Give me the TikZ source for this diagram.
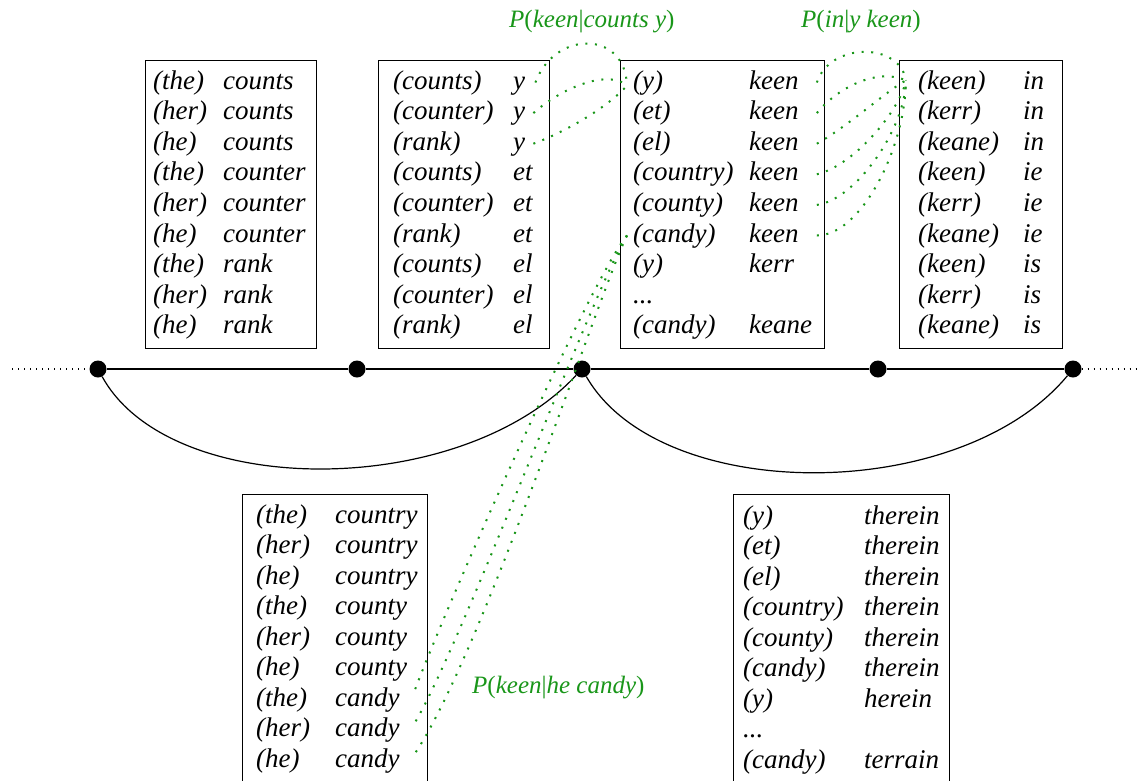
\documentclass[tikz,border=0pt]{standalone}
\usepackage{fontspec}
\setmainfont{Liberation Serif}
\definecolor{probgreen}{RGB}{25,150,25}
\tikzset{
  box/.style={draw, line width=1.1pt, anchor=north west, inner sep=0pt},
  word/.style={anchor=base west, inner sep=0pt, text height=19pt, text depth=6pt, font=\fontsize{27}{32}\selectfont\itshape},
  vertex/.style={circle, fill=black, inner sep=0pt, minimum size=17pt},
  dotpath/.style={line width=1.2pt, dash pattern=on 1.2pt off 4.8pt},
  prob/.style={probgreen, line width=2pt, dash pattern=on 2pt off 7.6pt},
  problabel/.style={anchor=base west, inner sep=0pt, text=probgreen, font=\fontsize{25}{30}\selectfont}
}

\begin{document}
\begin{tikzpicture}[x=1pt, y=-1pt]
\clip (0,0) rectangle (1138,780);
\node[box, minimum width=171pt, minimum height=288pt] (L1) at (145,60) {};
\node[box, minimum width=171pt, minimum height=288pt] (L2) at (378,60) {};
\node[box, minimum width=204pt, minimum height=288pt] (L3) at (620,60) {};
\node[box, minimum width=163pt, minimum height=288pt] (L4) at (899,60) {};
\node[box, minimum width=185pt, minimum height=320pt] (L5) at (242,494) {};
\node[box, minimum width=216pt, minimum height=320pt] (L6) at (733,494) {};

\foreach \i/\ctx/\wrd in {1/(the)/counts, 2/(her)/counts, 3/(he)/counts, 4/(the)/counter, 5/(her)/counter, 6/(he)/counter, 7/(the)/rank, 8/(her)/rank, 9/(he)/rank}{
  \node[word] (c1\i) at (153,{89+30.6*(\i-1)}) {\ctx};
  \node[word] (w1\i) at (223,{89+30.6*(\i-1)}) {\wrd};
}
\foreach \i/\ctx/\wrd in {1/(counts)/y, 2/(counter)/y, 3/(rank)/y, 4/(counts)/et, 5/(counter)/et, 6/(rank)/et, 7/(counts)/el, 8/(counter)/el, 9/(rank)/el}{
  \node[word] (c2\i) at (393,{89+30.6*(\i-1)}) {\ctx};
  \node[word] (w2\i) at (513,{89+30.6*(\i-1)}) {\wrd};
}
\foreach \i/\ctx/\wrd in {1/(y)/keen, 2/(et)/keen, 3/(el)/keen, 4/(country)/keen, 5/(county)/keen, 6/(candy)/keen, 7/(y)/kerr, 8/{...}/{}, 9/(candy)/keane}{
  \node[word] (c3\i) at (633,{89+30.6*(\i-1)}) {\ctx};
  \node[word] (w3\i) at (749,{89+30.6*(\i-1)}) {\wrd};
}
\foreach \i/\ctx/\wrd in {1/(keen)/in, 2/(kerr)/in, 3/(keane)/in, 4/(keen)/ie, 5/(kerr)/ie, 6/(keane)/ie, 7/(keen)/is, 8/(kerr)/is, 9/(keane)/is}{
  \node[word] (c4\i) at (918,{89+30.6*(\i-1)}) {\ctx};
  \node[word] (w4\i) at (1023,{89+30.6*(\i-1)}) {\wrd};
}
\foreach \i/\ctx/\wrd in {1/(the)/country, 2/(her)/country, 3/(he)/country, 4/(the)/county, 5/(her)/county, 6/(he)/county, 7/(the)/candy, 8/(her)/candy, 9/(he)/candy}{
  \node[word] (c5\i) at (256,{523+30.5*(\i-1)}) {\ctx};
  \node[word] (w5\i) at (335,{523+30.5*(\i-1)}) {\wrd};
}
\foreach \i/\ctx/\wrd in {1/(y)/therein, 2/(et)/therein, 3/(el)/therein, 4/(country)/therein, 5/(county)/therein, 6/(candy)/therein, 7/(y)/herein, 8/{...}/{}, 9/(candy)/terrain}{
  \node[word] (c6\i) at (743,{524+30.5*(\i-1)}) {\ctx};
  \node[word] (w6\i) at (864,{524+30.5*(\i-1)}) {\wrd};
}

\node[problabel] (pl1) at (509,27) {\textit{P}(\textit{keen}|\textit{counts y})};
\node[problabel] (pl2) at (801,27) {\textit{P}(\textit{in}|\textit{y keen})};
\node[problabel] (pl3) at (472,693) {\textit{P}(\textit{keen}|\textit{he candy})};

\foreach \x/\n in {98/d1, 357/d2, 582/d3, 878/d4, 1073/d5}{
  \node[vertex] (\n) at (\x,369) {};
}
\coordinate (lfar) at (12,369);
\coordinate (rfar) at (1138,369);
\draw[line width=1.2pt] (d1) -- (d2) -- (d3) -- (d4) -- (d5);
\draw[dotpath] (lfar) -- (d1);
\draw[dotpath] (d5) -- (rfar);
\draw[line width=1.2pt] (d1) .. controls (170,500) and (460,500) .. (d3);
\draw[line width=1.2pt] (d3) .. controls (660,505) and (960,505) .. (d5);

\draw[prob] ([xshift=10pt]w21.east) .. controls (555,30) and (625,30) .. ([xshift=-6pt,yshift=-3pt]c31.west);
\draw[prob] ([xshift=8pt]w22.east) .. controls (565,85) and (610,70) .. ([xshift=-6pt,yshift=-3pt]c31.west);
\draw[prob] ([xshift=8pt]w23.east) .. controls (570,130) and (610,105) .. ([xshift=-6pt,yshift=-3pt]c31.west);
\foreach \r/\ax/\ay/\bx/\by in {1/830/42/900/42, 2/840/85/880/68, 3/850/125/890/88, 4/855/165/900/110, 5/855/200/905/130, 6/860/236/905/150}{
  \draw[prob] ([xshift=18pt]w3\r.east) .. controls (\ax,\ay) and (\bx,\by) .. ([xshift=-12pt,yshift=2pt]c41.west);
}
\foreach \r/\ax/\ay/\bx/\by in {7/590/280/440/620, 8/595/285/460/650, 9/600/290/480/660}{
  \draw[prob] ([xshift=-6pt]c36.west) .. controls (\ax,\ay) and (\bx,\by) .. ([xshift=13pt,yshift=4pt]w5\r.east);
}
\end{tikzpicture}
\end{document}
